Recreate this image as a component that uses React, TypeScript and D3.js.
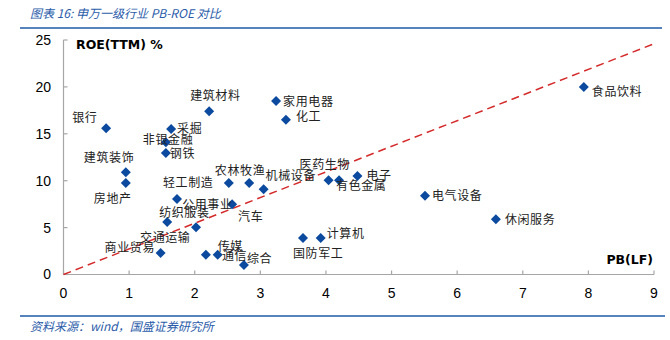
import React from "react";
import * as d3 from "d3";

const industries = ["银行","建筑装饰","房地产","采掘","非银金融","钢铁","建筑材料","家用电器","化工","食品饮料","电气设备","休闲服务","农林牧渔","公用事业","轻工制造","机械设备","汽车","纺织服装","交通运输","商业贸易","通信","传媒","综合","医药生物","有色金属","电子","计算机","国防军工"];
const pbValues = [0.65,0.95,0.95,1.64,1.56,1.56,2.22,3.24,3.39,7.93,5.51,6.59,2.52,2.83,1.73,3.05,2.57,1.58,2.02,1.48,2.17,2.35,2.75,4.04,4.20,4.48,3.92,3.65];
const roeValues = [15.6,10.9,9.75,15.5,14.1,12.95,17.4,18.5,16.5,20.0,8.4,5.9,9.75,9.75,8.05,9.1,7.5,5.6,5.05,2.3,2.1,2.1,1.0,10.05,10.05,10.5,3.9,3.9];
const xTicks = [0,1,2,3,4,5,6,7,8,9];
const yTicks = [0,5,10,15,20,25];
const trendPB = [0, 9];
const trendROE = [0, 24.6];

// label layout offsets (px) relative to each point: [dx to text start, dy to text middle]
const labelOffsets: [number, number][] = [
  [-34,-10],[-42,-14],[-32,16],[6,0],[-23,-2],[4,1],[-19,-15],[7,1],[10,-3],[8,5],
  [7,0],[9,1],[-14,-12],[-67,22],[-14,-16],[2,-13],[6,13],[-8,-9],[-56,11],[-56,-5],
  [16,1],[0,-8],[3,-6],[-29,-15],[-3,6],[9,0],[6,-4],[-10,16]
];

export default function App() {
  const W = 670, H = 340;
  const x = d3.scaleLinear().domain([0, 9]).range([63.5, 654]);
  const y = d3.scaleLinear().domain([0, 25]).range([274.5, 40]);
  const axisColor = "#a6a6a6";
  const blue = "#2a5caa";
  const diamond = d3.symbol().type(d3.symbolSquare).size(50)() as string;
  const line = d3.line<number>().x((_, i) => x(trendPB[i])).y((d) => y(d));
  const cjk = "'Noto Sans CJK SC', sans-serif";
  const num = "'Liberation Sans', Arial, sans-serif";
  return (
    <svg width={W} height={H} style={{ position: "absolute", left: 0, top: 0, background: "#fff" }}>
      <text x={30} y={18} fontFamily={cjk} fontSize={12} fontStyle="italic" fill={blue}>图表 16:  申万一级行业 PB-ROE 对比</text>
      <line x1={20} x2={662} y1={28} y2={28} stroke="#1f5aa6" strokeWidth={1.5} />

      {/* axes */}
      <line x1={x(0)} x2={x(0)} y1={y(25)} y2={y(0)} stroke={axisColor} strokeWidth={1.2} />
      <line x1={x(0)} x2={x(9)} y1={y(0)} y2={y(0)} stroke={axisColor} strokeWidth={1.2} />
      {yTicks.map((t) => (
        <g key={"y" + t}>
          <line x1={x(0)} x2={x(0) + 4} y1={y(t)} y2={y(t)} stroke={axisColor} strokeWidth={1.2} />
          <text x={51} y={y(t)} dy="0.35em" textAnchor="end" fontFamily={num} fontSize={14} fill="#000">{t}</text>
        </g>
      ))}
      {xTicks.map((t) => (
        <g key={"x" + t}>
          <line x1={x(t)} x2={x(t)} y1={y(0)} y2={y(0) - 4} stroke={axisColor} strokeWidth={1.2} />
          <text x={x(t)} y={293} dy="0.35em" textAnchor="middle" fontFamily={num} fontSize={14} fill="#000">{t}</text>
        </g>
      ))}
      <text x={76} y={45} dy="0.35em" fontFamily="'DejaVu Sans', sans-serif" fontWeight="bold" fontSize={12.5} fill="#000">ROE(TTM) %</text>
      <text x={653} y={260} dy="0.35em" textAnchor="end" fontFamily="'DejaVu Sans', sans-serif" fontWeight="bold" fontSize={12.5} fill="#000">PB(LF)</text>

      {/* trend line */}
      <path d={line(trendROE) as string} fill="none" stroke="#d42a2a" strokeWidth={1.5} strokeDasharray="8,5" />

      {/* points */}
      {industries.map((name, i) => (
        <path key={"p" + name} d={diamond} transform={`translate(${x(pbValues[i])},${y(roeValues[i])}) rotate(45)`} fill="#0b4a9e" />
      ))}
      {industries.map((name, i) => (
        <text key={"l" + name} x={x(pbValues[i]) + labelOffsets[i][0]} y={y(roeValues[i]) + labelOffsets[i][1]} dy="0.35em"
          fontFamily={cjk} fontSize={12} letterSpacing={0.6} fill="#222">{name}</text>
      ))}

      <line x1={20} x2={665} y1={316} y2={316} stroke="#1f5aa6" strokeWidth={1.5} />
      <text x={30} y={331} fontFamily={cjk} fontSize={12} fontStyle="italic" fill={blue}>资料来源：wind，国盛证券研究所</text>
    </svg>
  );
}
